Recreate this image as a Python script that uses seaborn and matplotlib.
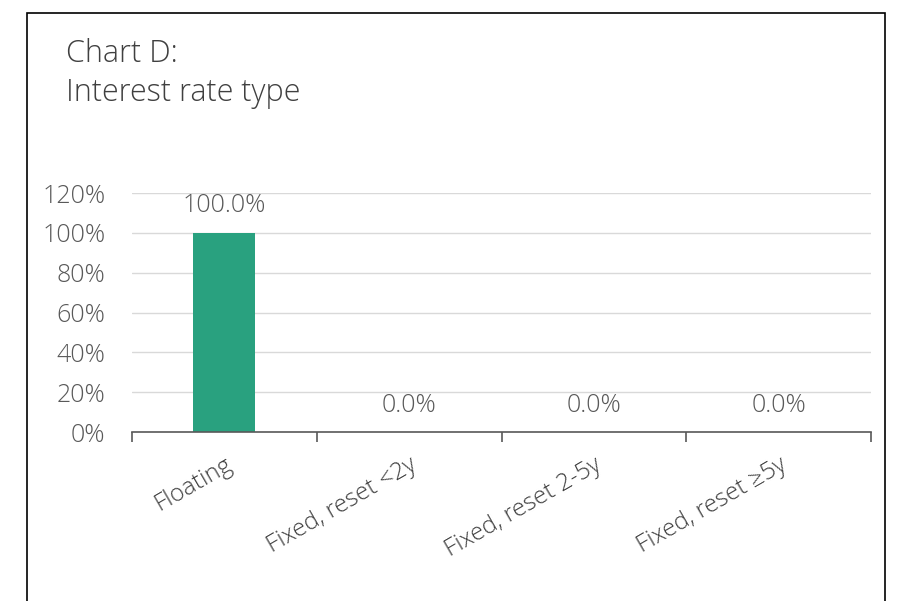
import matplotlib
matplotlib.use("Agg")
import matplotlib.pyplot as plt
import seaborn as sns
import pandas as pd
from matplotlib.patches import Rectangle
from matplotlib.ticker import PercentFormatter, FixedLocator

categories = ["Floating", "Fixed, reset <2y", "Fixed, reset 2-5y", "Fixed, reset \u22655y"]
values = [1.0, 0.0, 0.0, 0.0]
value_labels = ["100.0%", "0.0%", "0.0%", "0.0%"]
yticks = [0, 0.2, 0.4, 0.6, 0.8, 1.0, 1.2]
title_lines = ["Chart D:", "Interest rate type"]

sns.set_style("white")
plt.rcParams['font.family'] = ['Open Sans', 'DejaVu Sans']

df = pd.DataFrame({"category": categories, "value": values})

fig = plt.figure(figsize=(9.08, 6.01), dpi=100)
fig.patches.append(Rectangle((27/908, -0.1), (885-27)/908, 1.1 - 13/601,
                             transform=fig.transFigure, fill=False,
                             edgecolor="#000000", linewidth=1.2))
ax = fig.add_axes([132/908, 1-432/601, (871-132)/908, (432-193)/601])

sns.barplot(data=df, x="category", y="value", color="#29A17F", width=0.336,
            saturation=1, ax=ax, edgecolor="none")

ax.set_ylim(0, 1.2)
ax.set_xlim(-0.5, len(categories) - 0.5)
ax.yaxis.set_major_locator(FixedLocator(yticks))
ax.yaxis.set_major_formatter(PercentFormatter(1.0, decimals=0))
ax.grid(axis="y", color="#D9D9D9", linewidth=1)
ax.set_axisbelow(True)
for s in ["top", "right", "left"]:
    ax.spines[s].set_visible(False)
ax.spines["bottom"].set_color("#595959")
ax.spines["bottom"].set_linewidth(1.2)
ax.tick_params(axis="y", left=False, length=0, pad=19, labelsize=18, labelcolor="#595959")

# x ticks at category boundaries
ax.set_xticks([i - 0.5 for i in range(len(categories) + 1)])
ax.set_xticklabels([])
ax.tick_params(axis="x", which="major", bottom=True, length=7, width=1.2,
               color="#595959", direction="out")
ax.set_xticks(range(len(categories)), minor=True)
ax.set_xticklabels(categories, minor=True, rotation=30, ha="right", rotation_mode="anchor",
                   fontsize=17.5, color="#404040", fontweight="light")
ax.tick_params(axis="x", which="minor", bottom=True, length=0, pad=15)
for lbl in ax.get_xticklabels(minor=True):
    lbl.set_x(lbl.get_position()[0])
for lbl in ax.get_yticklabels():
    lbl.set_fontweight("light")
ax.set_xlabel("")
ax.set_ylabel("")

for i, (v, lab) in enumerate(zip(values, value_labels)):
    ax.annotate(lab, (i, v), xytext=(0, 27), textcoords="offset pixels",
                ha="center", va="center", fontsize=18, color="#595959", fontweight="light")

fig.text(66/908, 1-62/601, title_lines[0], fontsize=22, color="#404040", fontweight="light",
         ha="left", va="baseline")
fig.text(66/908, 1-101/601, title_lines[1], fontsize=22, color="#404040", fontweight="light",
         ha="left", va="baseline")

fig.savefig("out.png", dpi=100, facecolor="white")
